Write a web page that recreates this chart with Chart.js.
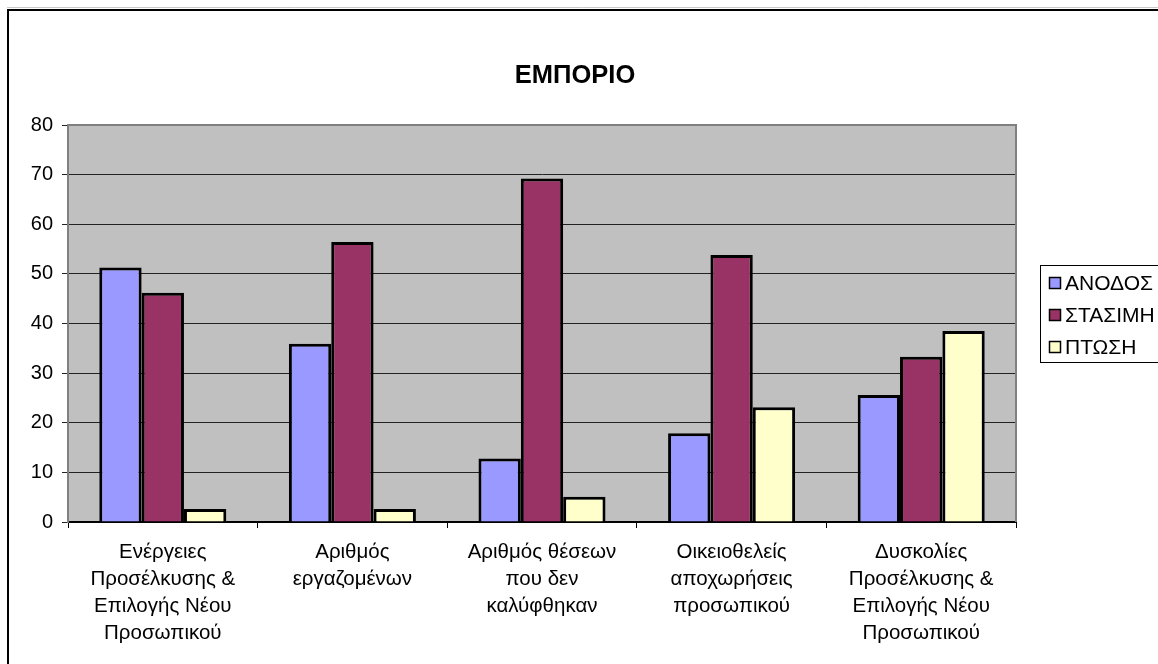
<!DOCTYPE html>
<html>
<head>
<meta charset="utf-8">
<script src="https://cdn.jsdelivr.net/npm/chart.js@4/dist/chart.umd.min.js"></script>
<style>
  html, body { margin: 0; padding: 0; background: #fff; overflow: hidden; }
  canvas { display: block; }
</style>
</head>
<body>
<canvas id="tradeChart" width="1158" height="664"></canvas>
<script>
const categories = [
    ['Ενέργειες', 'Προσέλκυσης &', 'Επιλογής Νέου', 'Προσωπικού'],
    ['Αριθμός', 'εργαζομένων'],
    ['Αριθμός θέσεων', 'που δεν', 'καλύφθηκαν'],
    ['Οικειοθελείς', 'αποχωρήσεις', 'προσωπικού'],
    ['Δυσκολίες', 'Προσέλκυσης &', 'Επιλογής Νέου', 'Προσωπικού']
];
const seriesNames = ['ΑΝΟΔΟΣ', 'ΣΤΑΣΙΜΗ', 'ΠΤΩΣΗ'];
const anodos = [51.3, 35.9, 12.8, 17.9, 25.6];
const stasimi = [46.2, 56.4, 69.2, 53.8, 33.3];
const ptosi = [2.6, 2.6, 5.1, 23.1, 38.5];
const chartTitle = 'ΕΜΠΟΡΙΟ';

const FONT = 'Arial, "Liberation Sans", sans-serif';

// grey plot area, outer frame, title and the boxed legend on the right
const excelLook = {
    id: 'excelLook',
    beforeDraw(chart) {
        const { ctx, chartArea: a } = chart;
        ctx.save();
        ctx.fillStyle = '#c0c0c0';
        ctx.fillRect(a.left, a.top, a.right - a.left, a.bottom - a.top);
        ctx.restore();
    },
    afterDraw(chart) {
        const { ctx, chartArea: a } = chart;
        ctx.save();
        // plot border (top, left, right)
        ctx.strokeStyle = '#808080';
        ctx.lineWidth = 2;
        ctx.beginPath();
        ctx.moveTo(a.left, a.bottom);
        ctx.lineTo(a.left, a.top);
        ctx.lineTo(a.right, a.top);
        ctx.lineTo(a.right, a.bottom);
        ctx.stroke();

        // outer chart frame
        ctx.strokeStyle = '#c8c8c8';
        ctx.lineWidth = 1;
        ctx.beginPath();
        ctx.moveTo(7, 7.5);
        ctx.lineTo(1158, 7.5);
        ctx.stroke();
        ctx.strokeStyle = '#000';
        ctx.lineWidth = 2;
        ctx.strokeRect(8, 10, 2000, 2000);

        // title, centred on the whole chart box
        ctx.fillStyle = '#000';
        ctx.font = 'bold 25.5px ' + FONT;
        ctx.textAlign = 'center';
        ctx.textBaseline = 'middle';
        ctx.fillText(chartTitle, 575, 76);

        // legend
        const lx = 1040, ly = 265;
        ctx.fillStyle = '#fff';
        ctx.fillRect(lx, ly, 200, 97);
        ctx.strokeStyle = '#000';
        ctx.lineWidth = 1;
        ctx.strokeRect(lx + 0.5, ly + 0.5, 200, 97);
        ctx.font = '21px ' + FONT;
        ctx.textAlign = 'left';
        chart.data.datasets.forEach((ds, i) => {
            const cy = ly + 18 + i * 32;
            ctx.fillStyle = ds.backgroundColor;
            ctx.fillRect(1049, cy - 6, 12, 12);
            ctx.lineWidth = 1.5;
            ctx.strokeRect(1049.5, cy - 5.5, 11, 11);
            ctx.fillStyle = '#000';
            ctx.fillText(ds.label, 1065, cy + 1);
        });
        ctx.restore();
    }
};

const ctx = document.getElementById('tradeChart').getContext('2d');
new Chart(ctx, {
    type: 'bar',
    data: {
        labels: categories,
        datasets: [
            { label: seriesNames[0], data: anodos, backgroundColor: '#9999ff' },
            { label: seriesNames[1], data: stasimi, backgroundColor: '#993366' },
            { label: seriesNames[2], data: ptosi, backgroundColor: '#ffffcc' }
        ]
    },
    options: {
        responsive: false,
        animation: false,
        devicePixelRatio: 1,
        layout: { padding: { left: 0, right: 142, top: 125, bottom: 0 } },
        datasets: {
            bar: {
                borderColor: '#000',
                borderWidth: 3,
                categoryPercentage: 0.67,
                barPercentage: 1
            }
        },
        plugins: {
            legend: { display: false },
            tooltip: { enabled: false },
            title: { display: false }
        },
        scales: {
            x: {
                grid: { offset: true, drawOnChartArea: false, color: '#000', tickLength: 6 },
                border: { color: '#000', width: 2 },
                ticks: {
                    color: '#000',
                    font: { family: FONT, size: 20.5, lineHeight: 1.32 },
                    padding: 11,
                    maxRotation: 0,
                    autoSkip: false
                },
                afterFit(s) { s.height = 142; }
            },
            y: {
                min: 0,
                max: 80,
                ticks: {
                    stepSize: 10,
                    color: '#000',
                    font: { family: FONT, size: 20 },
                    padding: 9
                },
                grid: { color: '#222', lineWidth: 1, tickLength: 6 },
                border: { color: '#808080', width: 2 },
                afterFit(s) { s.width = 68; }
            }
        }
    },
    plugins: [excelLook]
});
</script>
</body>
</html>
